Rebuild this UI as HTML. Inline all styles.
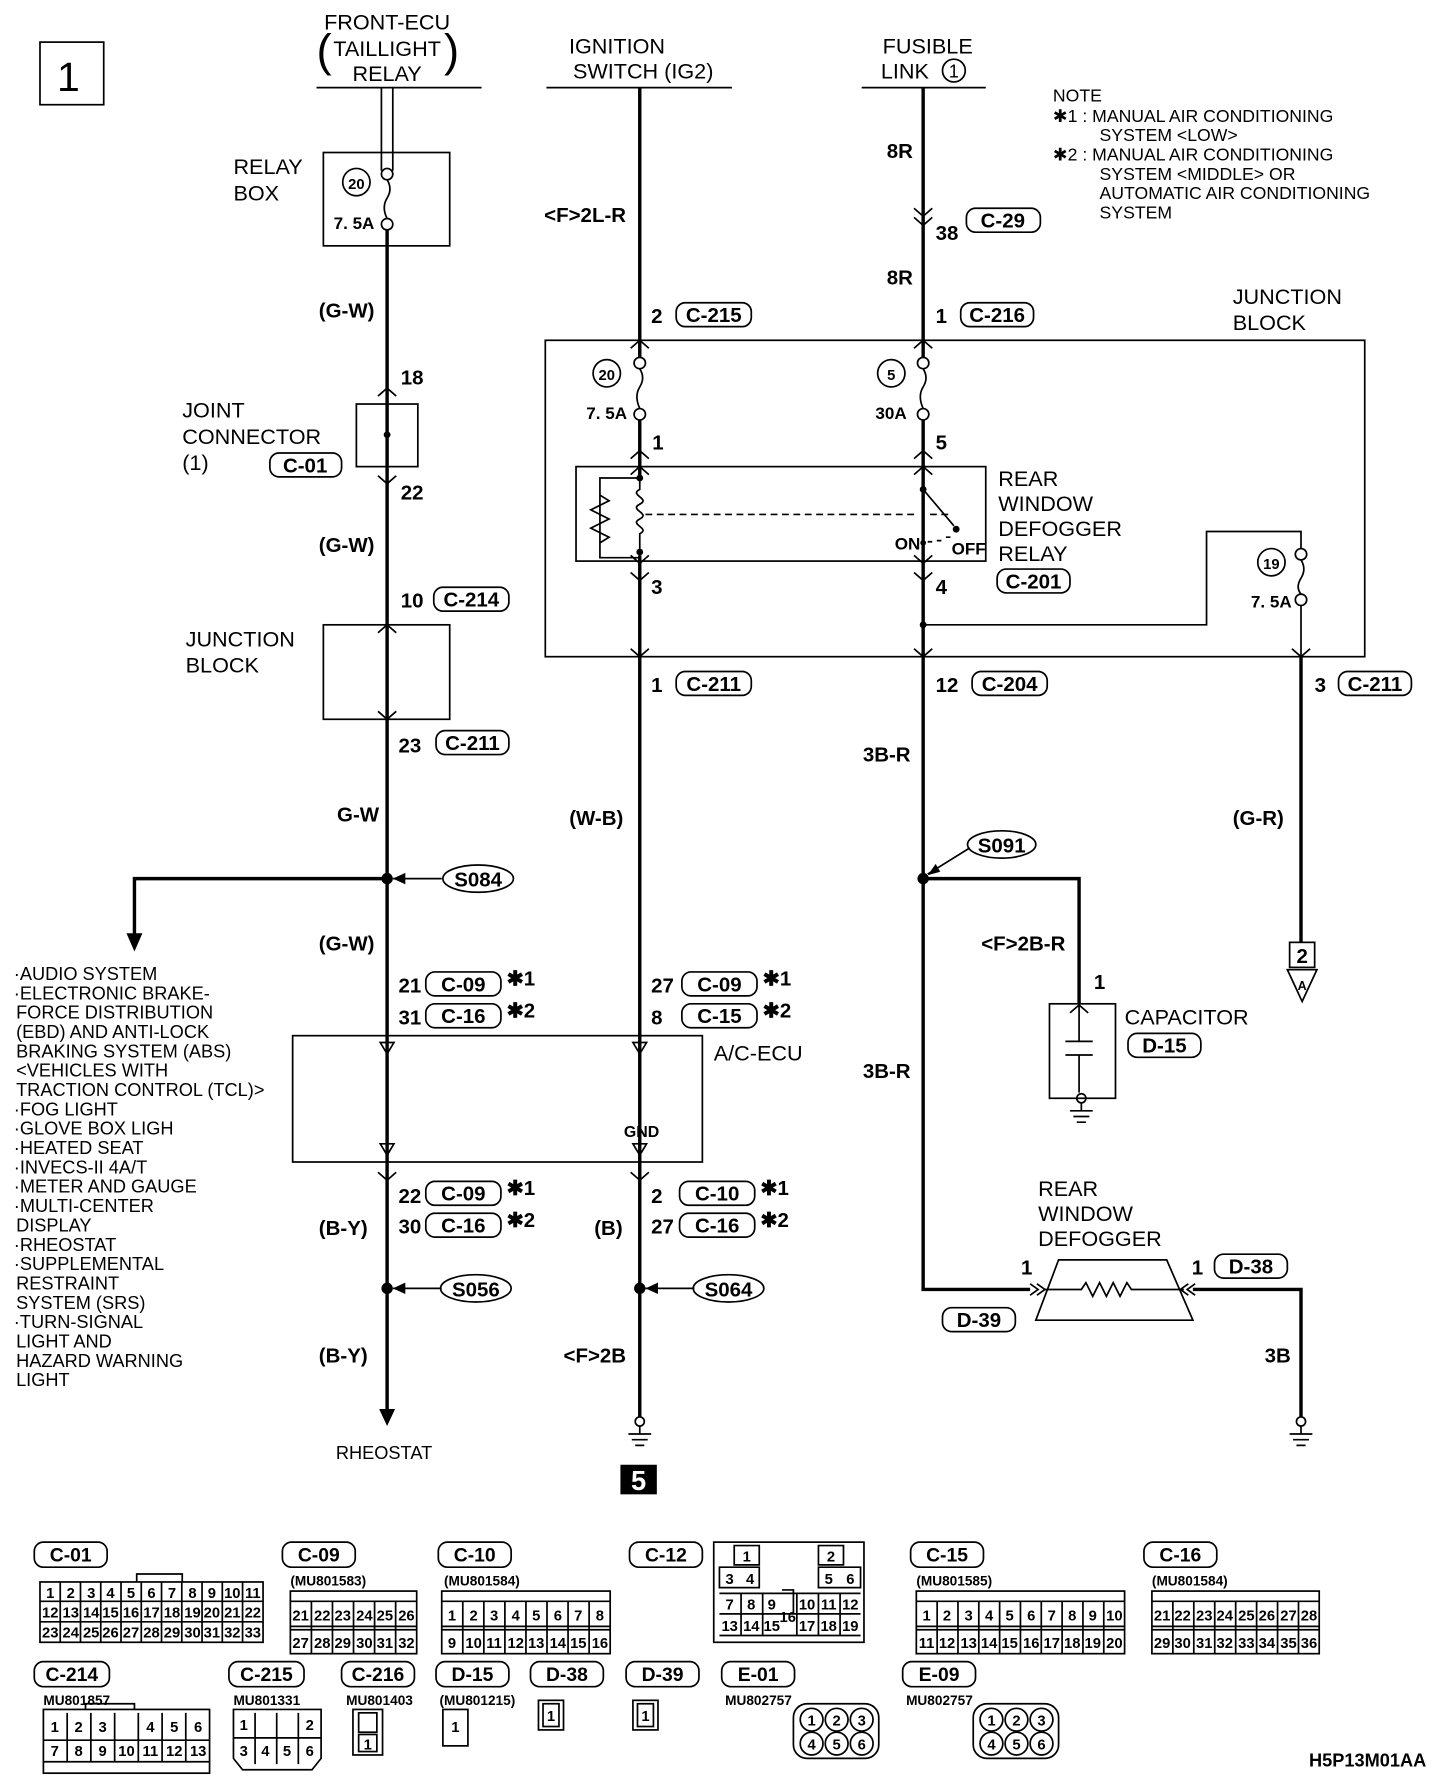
<!DOCTYPE html>
<html><head><meta charset="utf-8"><style>
html,body{margin:0;padding:0;background:#fff}
svg{display:block}
text{font-family:"Liberation Sans",sans-serif;fill:#000}
.t{font-size:19px}
.s{font-size:16px}
.b{font-size:18px;font-weight:bold}
.n{font-size:13px;font-weight:bold}
.w{stroke:#000;stroke-width:3;fill:none}
.l{stroke:#000;stroke-width:1.5;fill:none}
</style></head><body>
<svg width="1440" height="1780" viewBox="0 0 1265 1564" xmlns="http://www.w3.org/2000/svg">
<rect x="35" y="37" width="56" height="55" class="l" stroke-width="2"/>
<text x="50" y="80" style="font-size:36px">1</text>

<g class="t" text-anchor="middle">
<text x="340" y="26">FRONT-ECU</text><text x="340" y="49">TAILLIGHT</text><text x="340" y="71">RELAY</text>
<text x="542" y="47">IGNITION</text><text x="565" y="69">SWITCH (IG2)</text>
<text x="815" y="47">FUSIBLE</text><text x="795" y="69">LINK</text>
</g>
<text x="278" y="58" style="font-size:40px">(</text><text x="390" y="58" style="font-size:40px">)</text>
<circle cx="838" cy="62" r="10" class="l"/><text x="838" y="68" class="s" text-anchor="middle">1</text>
<path d="M278 77H423M480 77H643M757 77H866" class="l"/>
<g class="s" style="font-size:15.5px">
<text x="925" y="89">NOTE</text>
<text x="925" y="107">✱1 : MANUAL AIR CONDITIONING</text>
<text x="966" y="124">SYSTEM &lt;LOW&gt;</text>
<text x="925" y="141">✱2 : MANUAL AIR CONDITIONING</text>
<text x="966" y="158">SYSTEM &lt;MIDDLE&gt; OR</text>
<text x="966" y="175">AUTOMATIC AIR CONDITIONING</text>
<text x="966" y="192">SYSTEM</text>
</g>

<path d="M335 77V150M345 77V150" class="l"/>
<rect x="284" y="134" width="111" height="82" class="l"/>
<circle cx="340" cy="153" r="5" class="l"/><circle cx="340" cy="197" r="5" class="l"/>
<path d="M340 158q5 8 0 16q-5 8 0 18" class="l"/>
<circle cx="313" cy="160" r="12" class="l"/><text x="313" y="166" class="n" text-anchor="middle">20</text>
<text x="293" y="201" class="n" style="font-size:15px">7. 5A</text>
<text x="205" y="153" class="t">RELAY</text><text x="205" y="176" class="t">BOX</text>
<path d="M340 202V1240" class="w"/>
<polygon points="333,1238 347,1238 340,1253"/>
<text x="280" y="279" class="b">(G-W)</text>
<text x="352" y="338" class="b">18</text>
<rect x="313" y="355" width="54" height="55" class="l"/><circle cx="340" cy="382" r="3"/>
<path d="M332 348l8-7 8 7M332 418l8 7 8-7" class="l"/>
<text x="160" y="367" class="t">JOINT</text><text x="160" y="390" class="t">CONNECTOR</text><text x="160" y="413" class="t">(1)</text>
<rect x="237" y="398" width="63" height="21" rx="8" class="l"/><text x="268" y="415" class="b" text-anchor="middle">C-01</text>
<text x="352" y="439" class="b">22</text>
<text x="280" y="485" class="b">(G-W)</text>
<text x="352" y="534" class="b">10</text>
<rect x="381" y="516" width="66" height="21" rx="8" class="l"/><text x="414" y="533" class="b" text-anchor="middle">C-214</text>
<rect x="284" y="549" width="111" height="83" class="l"/>
<path d="M332 556l8-7 8 7M332 625l8 7 8-7" class="l"/>
<text x="163" y="568" class="t">JUNCTION</text><text x="163" y="591" class="t">BLOCK</text>
<text x="350" y="661" class="b">23</text>
<rect x="383" y="642" width="64" height="21" rx="8" class="l"/><text x="415" y="659" class="b" text-anchor="middle">C-211</text>
<text x="296" y="722" class="b">G-W</text>
<path d="M340 772H118V822" class="w"/><polygon points="111,820 125,820 118,836"/>
<circle cx="340" cy="772" r="5"/>
<path d="M345 772H388" class="l"/><polygon points="345,772 356,767 356,777"/>
<ellipse cx="420" cy="772" rx="31" ry="12" class="l" stroke-width="2"/><text x="420" y="779" class="b" text-anchor="middle">S084</text>
<text x="280" y="835" class="b">(G-W)</text>

<g style="font-size:16px">
<text x="12" y="861">·AUDIO SYSTEM</text>
<text x="12" y="878">·ELECTRONIC BRAKE-</text>
<text x="14" y="895">FORCE DISTRIBUTION</text>
<text x="14" y="912">(EBD) AND ANTI-LOCK</text>
<text x="14" y="929">BRAKING SYSTEM (ABS)</text>
<text x="14" y="946">&lt;VEHICLES WITH</text>
<text x="14" y="963">TRACTION CONTROL (TCL)&gt;</text>
<text x="12" y="980">·FOG LIGHT</text>
<text x="12" y="997">·GLOVE BOX LIGH</text>
<text x="12" y="1014">·HEATED SEAT</text>
<text x="12" y="1031">·INVECS-II 4A/T</text>
<text x="12" y="1048">·METER AND GAUGE</text>
<text x="12" y="1065">·MULTI-CENTER</text>
<text x="14" y="1082">DISPLAY</text>
<text x="12" y="1099">·RHEOSTAT</text>
<text x="12" y="1116">·SUPPLEMENTAL</text>
<text x="14" y="1133">RESTRAINT</text>
<text x="14" y="1150">SYSTEM (SRS)</text>
<text x="12" y="1167">·TURN-SIGNAL</text>
<text x="14" y="1184">LIGHT AND</text>
<text x="14" y="1201">HAZARD WARNING</text>
<text x="14" y="1218">LIGHT</text>
</g>

<text x="350" y="872" class="b">21</text><rect x="374" y="854" width="66" height="21" rx="8" class="l"/><text x="407" y="871" class="b" text-anchor="middle">C-09</text><text x="445" y="866" class="b">✱1</text>
<text x="350" y="900" class="b">31</text><rect x="374" y="882" width="66" height="21" rx="8" class="l"/><text x="407" y="899" class="b" text-anchor="middle">C-16</text><text x="445" y="894" class="b">✱2</text>
<text x="572" y="872" class="b">27</text><rect x="599" y="854" width="66" height="21" rx="8" class="l"/><text x="632" y="871" class="b" text-anchor="middle">C-09</text><text x="670" y="866" class="b">✱1</text>
<text x="572" y="900" class="b">8</text><rect x="599" y="882" width="66" height="21" rx="8" class="l"/><text x="632" y="899" class="b" text-anchor="middle">C-15</text><text x="670" y="894" class="b">✱2</text>
<rect x="257" y="910" width="360" height="111" class="l" fill="#fff"/>
<path d="M334 916h12l-6 10zM556 916h12l-6 10zM334 1005h12l-6 10zM556 1005h12l-6 10z" class="l"/>
<text x="627" y="932" class="t">A/C-ECU</text>
<text x="548" y="999" class="n" style="font-size:14px">GND</text>
<path d="M332 1030l8 7 8-7M554 1030l8 7 8-7" class="l"/>
<text x="350" y="1057" class="b">22</text><rect x="374" y="1038" width="66" height="21" rx="8" class="l"/><text x="407" y="1055" class="b" text-anchor="middle">C-09</text><text x="445" y="1050" class="b">✱1</text>
<text x="350" y="1084" class="b">30</text><rect x="374" y="1066" width="66" height="21" rx="8" class="l"/><text x="407" y="1083" class="b" text-anchor="middle">C-16</text><text x="445" y="1078" class="b">✱2</text>
<text x="572" y="1057" class="b">2</text><rect x="597" y="1038" width="66" height="21" rx="8" class="l"/><text x="630" y="1055" class="b" text-anchor="middle">C-10</text><text x="668" y="1050" class="b">✱1</text>
<text x="572" y="1084" class="b">27</text><rect x="597" y="1066" width="66" height="21" rx="8" class="l"/><text x="630" y="1083" class="b" text-anchor="middle">C-16</text><text x="668" y="1078" class="b">✱2</text>
<text x="280" y="1085" class="b">(B-Y)</text>
<text x="522" y="1085" class="b">(B)</text>
<circle cx="340" cy="1132" r="5"/><path d="M345 1132H388" class="l"/><polygon points="345,1132 356,1127 356,1137"/>
<ellipse cx="418" cy="1132" rx="31" ry="12" class="l" stroke-width="2"/><text x="418" y="1139" class="b" text-anchor="middle">S056</text>
<circle cx="562" cy="1132" r="5"/><path d="M567 1132H610" class="l"/><polygon points="567,1132 578,1127 578,1137"/>
<ellipse cx="640" cy="1132" rx="31" ry="12" class="l" stroke-width="2"/><text x="640" y="1139" class="b" text-anchor="middle">S064</text>
<text x="280" y="1197" class="b">(B-Y)</text>
<text x="495" y="1197" class="b">&lt;F&gt;2B</text>
<text x="295" y="1282" class="s">RHEOSTAT</text>

<!-- middle wire -->
<path d="M562 77V314M562 369V1245" class="w"/>
<text x="478" y="195" class="b">&lt;F&gt;2L-R</text>
<text x="572" y="284" class="b">2</text><rect x="594" y="266" width="66" height="21" rx="8" class="l"/><text x="627" y="283" class="b" text-anchor="middle">C-215</text>
<rect x="479" y="299" width="720" height="278" class="l"/>
<text x="1083" y="267" class="t">JUNCTION</text><text x="1083" y="290" class="t">BLOCK</text>
<circle cx="562" cy="319" r="5" class="l"/><circle cx="562" cy="364" r="5" class="l"/>
<circle cx="811" cy="319" r="5" class="l"/><circle cx="811" cy="364" r="5" class="l"/>
<path d="M562 324q5 8 0 16q-5 8 0 19M811 324q5 8 0 16q-5 8 0 19" class="l"/>
<circle cx="533" cy="328" r="12" class="l" fill="#fff"/><text x="533" y="334" class="n" text-anchor="middle">20</text>
<text x="515" y="368" class="n" style="font-size:15px">7. 5A</text>
<circle cx="783" cy="328" r="12" class="l" fill="#fff"/><text x="783" y="334" class="n" text-anchor="middle">5</text>
<text x="769" y="368" class="n" style="font-size:15px">30A</text>
<text x="573" y="395" class="b">1</text><text x="822" y="395" class="b">5</text>
<path d="M554 306l8-7 8 7M803 306l8-7 8 7M554 403l8-7 8 7M803 403l8-7 8 7M554 417l8-7 8 7M803 417l8-7 8 7M554 488l8 7 8-7M803 488l8 7 8-7M554 503l8 7 8-7M803 503l8 7 8-7M554 570l8 7 8-7M803 570l8 7 8-7M1135 570l8 7 8-7" class="l"/>
<rect x="506" y="410" width="360" height="83" class="l"/>
<rect x="557" y="420" width="10" height="68" fill="#fff"/>
<path d="M562 420v10c-10 5 10 8 0 13c-10 5 10 8 0 13c-10 5 10 8 0 13v19" class="l"/>
<path d="M562 420H527V490H562M527 435l8 5-16 8 16 8-16 8 16 8-8 5" class="l"/>
<circle cx="562" cy="420" r="3"/><circle cx="562" cy="485" r="3"/>
<path d="M567 452H836" class="l" stroke-dasharray="6,4"/>
<rect x="806" y="420" width="10" height="70" fill="#fff"/>
<path d="M811 410V430L838 462M811 477V493" class="l"/>
<path d="M815 476h4m4-1h4m4-3h4" class="l"/>
<circle cx="811" cy="430" r="3"/><circle cx="840" cy="465" r="3"/><circle cx="811" cy="477" r="2.5"/>
<text x="786" y="483" class="n" style="font-size:15px">ON</text><text x="836" y="487" class="n" style="font-size:15px">OFF</text>
<text x="877" y="427" class="t">REAR</text><text x="877" y="449" class="t">WINDOW</text><text x="877" y="471" class="t">DEFOGGER</text><text x="877" y="493" class="t">RELAY</text>
<rect x="876" y="500" width="64" height="21" rx="8" class="l"/><text x="908" y="517" class="b" text-anchor="middle">C-201</text>
<text x="572" y="522" class="b">3</text><text x="822" y="522" class="b">4</text>
<text x="572" y="608" class="b">1</text><rect x="594" y="590" width="66" height="21" rx="8" class="l"/><text x="627" y="607" class="b" text-anchor="middle">C-211</text>
<text x="500" y="725" class="b">(W-B)</text>

<!-- right wire -->
<path d="M811 77V314M811 369V1133H905" class="w"/>
<text x="779" y="139" class="b">8R</text>
<path d="M803 183l8 7 8-7M803 191l8 7 8-7" class="l"/>
<text x="822" y="211" class="b">38</text>
<rect x="849" y="183" width="65" height="21" rx="8" class="l"/><text x="881" y="200" class="b" text-anchor="middle">C-29</text>
<text x="779" y="250" class="b">8R</text>
<text x="822" y="284" class="b">1</text><rect x="844" y="266" width="64" height="21" rx="8" class="l"/><text x="876" y="283" class="b" text-anchor="middle">C-216</text>
<path d="M811 549H1060V467H1143V482M1143 532V577" class="l"/>
<path d="M1143 577V828" class="w"/>
<circle cx="811" cy="549" r="3"/>
<circle cx="1143" cy="487" r="5" class="l" fill="#fff"/><circle cx="1143" cy="527" r="5" class="l" fill="#fff"/>
<path d="M1143 492q5 8 0 16q-5 8 0 14" class="l"/>
<circle cx="1117" cy="494" r="12" class="l"/><text x="1117" y="500" class="n" text-anchor="middle">19</text>
<text x="1099" y="534" class="n" style="font-size:15px">7. 5A</text>
<text x="822" y="608" class="b">12</text><rect x="854" y="590" width="66" height="21" rx="8" class="l"/><text x="887" y="607" class="b" text-anchor="middle">C-204</text>
<text x="1155" y="608" class="b">3</text><rect x="1176" y="590" width="64" height="21" rx="8" class="l"/><text x="1208" y="607" class="b" text-anchor="middle">C-211</text>
<text x="758" y="669" class="b">3B-R</text>
<text x="1083" y="725" class="b">(G-R)</text>
<path d="M811 772H948V882" class="w"/><circle cx="811" cy="772" r="5"/>
<path d="M815 768L852 745" class="l"/><polygon points="815,769 822,759 826,766"/>
<ellipse cx="880" cy="742" rx="30" ry="12" class="l" stroke-width="2"/><text x="880" y="749" class="b" text-anchor="middle">S091</text>
<text x="862" y="835" class="b">&lt;F&gt;2B-R</text>
<text x="961" y="869" class="b">1</text>
<rect x="922" y="882" width="58" height="83" class="l"/>
<path d="M940 890l8-7 8 7M948 882V915M936 915H960M936 927H960M948 927V960" class="l"/>
<circle cx="950" cy="965" r="4" class="l" fill="#fff"/>
<path d="M950 969V976M940 976H960M943 981H957M946 986H954" class="l"/>
<text x="988" y="900" class="t">CAPACITOR</text>
<rect x="991" y="908" width="64" height="21" rx="8" class="l"/><text x="1023" y="925" class="b" text-anchor="middle">D-15</text>
<text x="758" y="947" class="b">3B-R</text>
<rect x="1133" y="828" width="22" height="22" class="l"/><text x="1144" y="846" class="b" text-anchor="middle">2</text>
<path d="M1131 852H1157L1144 880Z" class="l"/><text x="1144" y="870" class="n" text-anchor="middle" style="font-size:11px">A</text>
<path d="M905 1128l7 5-7 5M911 1128l7 5-7 5M1050 1128l-7 5 7 5M1044 1128l-7 5 7 5" class="l"/>
<path d="M930 1107H1025L1048 1160H910Z" class="l"/>
<path d="M918 1133H950l4-6 6 12 6-12 6 12 6-12 6 12 6-12 4 6H1040" class="l"/>
<path d="M1048 1133H1143V1245" class="w"/>
<text x="912" y="1051" class="t">REAR</text><text x="912" y="1073" class="t">WINDOW</text><text x="912" y="1095" class="t">DEFOGGER</text>
<text x="897" y="1120" class="b">1</text>
<text x="1047" y="1120" class="b">1</text><rect x="1067" y="1102" width="64" height="21" rx="8" class="l"/><text x="1099" y="1119" class="b" text-anchor="middle">D-38</text>
<rect x="828" y="1149" width="64" height="21" rx="8" class="l"/><text x="860" y="1166" class="b" text-anchor="middle">D-39</text>
<text x="1111" y="1197" class="b">3B</text>
<g class="l">
<circle cx="562" cy="1249" r="4" fill="#fff"/><path d="M562 1253V1260M552 1260H572M555 1265H569M558 1270H566"/>
<circle cx="1143" cy="1249" r="4" fill="#fff"/><path d="M1143 1253V1260M1133 1260H1153M1136 1265H1150M1139 1270H1147"/>
</g>
<rect x="545" y="1287" width="32" height="26" fill="#000"/><text x="561" y="1309" text-anchor="middle" style="font-size:24px;font-weight:bold;fill:#fff">5</text>

<g class="b" text-anchor="middle" style="font-size:17px">
<rect x="30" y="1355" width="64" height="22" rx="8" class="l"/><text x="62" y="1372">C-01</text>
<rect x="248" y="1355" width="64" height="22" rx="8" class="l"/><text x="280" y="1372">C-09</text>
<rect x="385" y="1355" width="64" height="22" rx="8" class="l"/><text x="417" y="1372">C-10</text>
<rect x="553" y="1355" width="64" height="22" rx="8" class="l"/><text x="585" y="1372">C-12</text>
<rect x="800" y="1355" width="64" height="22" rx="8" class="l"/><text x="832" y="1372">C-15</text>
<rect x="1005" y="1355" width="64" height="22" rx="8" class="l"/><text x="1037" y="1372">C-16</text>
<rect x="30" y="1460" width="66" height="22" rx="8" class="l"/><text x="63" y="1477">C-214</text>
<rect x="201" y="1460" width="66" height="22" rx="8" class="l"/><text x="234" y="1477">C-215</text>
<rect x="300" y="1460" width="64" height="22" rx="8" class="l"/><text x="332" y="1477">C-216</text>
<rect x="383" y="1460" width="64" height="22" rx="8" class="l"/><text x="415" y="1477">D-15</text>
<rect x="466" y="1460" width="64" height="22" rx="8" class="l"/><text x="498" y="1477">D-38</text>
<rect x="550" y="1460" width="64" height="22" rx="8" class="l"/><text x="582" y="1477">D-39</text>
<rect x="634" y="1460" width="64" height="22" rx="8" class="l"/><text x="666" y="1477">E-01</text>
<rect x="793" y="1460" width="64" height="22" rx="8" class="l"/><text x="825" y="1477">E-09</text>
</g>
<g style="font-size:12px;font-weight:bold">
<text x="255" y="1393">(MU801583)</text><text x="390" y="1393">(MU801584)</text>
<text x="805" y="1393">(MU801585)</text><text x="1012" y="1393">(MU801584)</text>
<text x="38" y="1498">MU801857</text><text x="205" y="1498">MU801331</text><text x="304" y="1498">MU801403</text>
<text x="386" y="1498">(MU801215)</text><text x="637" y="1498">MU802757</text><text x="796" y="1498">MU802757</text>
</g>
<text x="1150" y="1552" class="b" style="font-size:16px">H5P13M01AA</text>

<g class="l" stroke-width="2">
<rect x="35" y="1390" width="196" height="53"/>
<path d="M35 1407H231M35 1425H231M52.8 1390V1443M70.6 1390V1443M88.4 1390V1443M106.2 1390V1443M124 1390V1443M141.8 1390V1443M159.6 1390V1443M177.4 1390V1443M195.2 1390V1443M213 1390V1443M120 1390V1383H160V1390"/>
<rect x="255" y="1398" width="111" height="55"/>
<path d="M255 1407H366M255 1429H366M255 1432H366M273.5 1407V1453M292 1407V1453M310.5 1407V1453M329 1407V1453M347.5 1407V1453"/>
<rect x="388" y="1398" width="148" height="55"/>
<path d="M388 1407H536M388 1429H536M388 1432H536M406.5 1407V1453M425 1407V1453M443.5 1407V1453M462 1407V1453M480.5 1407V1453M499 1407V1453M517.5 1407V1453"/>
<rect x="627" y="1355" width="132" height="88"/>
<path d="M645 1358H667V1375H645ZM719 1358H741V1375H719ZM632 1377H667V1395H632ZM719 1377H756V1395H719ZM632 1400H756M632 1418H756M632 1437H756M651 1400V1437M670 1400V1437M700 1400V1437M719 1400V1437M738 1400V1437M687 1397H697V1418"/>
<rect x="805" y="1398" width="183" height="55"/>
<path d="M805 1407H988M805 1429H988M805 1432H988M823.3 1407V1453M841.6 1407V1453M859.9 1407V1453M878.2 1407V1453M896.5 1407V1453M914.8 1407V1453M933.1 1407V1453M951.4 1407V1453M969.7 1407V1453"/>
<rect x="1012" y="1398" width="147" height="55"/>
<path d="M1012 1407H1159M1012 1429H1159M1012 1432H1159M1030.4 1407V1453M1048.8 1407V1453M1067.2 1407V1453M1085.6 1407V1453M1104 1407V1453M1122.4 1407V1453M1140.8 1407V1453"/>
<rect x="38" y="1502" width="146" height="56"/>
<path d="M38 1529H184M38 1548H184M58.9 1505V1548M79.7 1505V1548M100.6 1505V1548M121.4 1505V1548M142.3 1505V1548M163.1 1505V1548M75 1502V1497H118V1502"/>
<path d="M205 1502H282V1545L274 1555H213L205 1545Z"/>
<path d="M205 1527H282M224 1505V1550M243 1505V1550M262 1505V1550"/>
<rect x="310" y="1502" width="26" height="40"/><rect x="315" y="1505" width="16" height="17"/><rect x="315" y="1524" width="16" height="15"/>
<rect x="389" y="1502" width="22" height="32"/>
<rect x="473" y="1494" width="22" height="26"/><rect x="477" y="1497" width="14" height="20"/>
<rect x="556" y="1494" width="22" height="26"/><rect x="560" y="1497" width="14" height="20"/>
<rect x="697" y="1497" width="75" height="48" rx="12"/>
<rect x="855" y="1497" width="75" height="48" rx="12"/>
</g>
<g fill="none" stroke="#000" stroke-width="1.5">
<circle cx="713" cy="1511" r="10"/><circle cx="735" cy="1511" r="10"/><circle cx="757" cy="1511" r="10"/>
<circle cx="713" cy="1532" r="10"/><circle cx="735" cy="1532" r="10"/><circle cx="757" cy="1532" r="10"/>
<circle cx="871" cy="1511" r="10"/><circle cx="893" cy="1511" r="10"/><circle cx="915" cy="1511" r="10"/>
<circle cx="871" cy="1532" r="10"/><circle cx="893" cy="1532" r="10"/><circle cx="915" cy="1532" r="10"/>
</g>
<g style="font-size:13px;font-weight:bold" text-anchor="middle">
<text x="44" y="1404">1</text><text x="62" y="1404">2</text><text x="80" y="1404">3</text><text x="97" y="1404">4</text><text x="115" y="1404">5</text><text x="133" y="1404">6</text><text x="151" y="1404">7</text><text x="169" y="1404">8</text><text x="186" y="1404">9</text><text x="204" y="1404">10</text><text x="222" y="1404">11</text>
<text x="44" y="1421">12</text><text x="62" y="1421">13</text><text x="80" y="1421">14</text><text x="97" y="1421">15</text><text x="115" y="1421">16</text><text x="133" y="1421">17</text><text x="151" y="1421">18</text><text x="169" y="1421">19</text><text x="186" y="1421">20</text><text x="204" y="1421">21</text><text x="222" y="1421">22</text>
<text x="44" y="1439">23</text><text x="62" y="1439">24</text><text x="80" y="1439">25</text><text x="97" y="1439">26</text><text x="115" y="1439">27</text><text x="133" y="1439">28</text><text x="151" y="1439">29</text><text x="169" y="1439">30</text><text x="186" y="1439">31</text><text x="204" y="1439">32</text><text x="222" y="1439">33</text>
<text x="264" y="1424">21</text><text x="283" y="1424">22</text><text x="301" y="1424">23</text><text x="320" y="1424">24</text><text x="338" y="1424">25</text><text x="357" y="1424">26</text>
<text x="264" y="1448">27</text><text x="283" y="1448">28</text><text x="301" y="1448">29</text><text x="320" y="1448">30</text><text x="338" y="1448">31</text><text x="357" y="1448">32</text>
<text x="397" y="1424">1</text><text x="416" y="1424">2</text><text x="434" y="1424">3</text><text x="453" y="1424">4</text><text x="471" y="1424">5</text><text x="490" y="1424">6</text><text x="508" y="1424">7</text><text x="527" y="1424">8</text>
<text x="397" y="1448">9</text><text x="416" y="1448">10</text><text x="434" y="1448">11</text><text x="453" y="1448">12</text><text x="471" y="1448">13</text><text x="490" y="1448">14</text><text x="508" y="1448">15</text><text x="527" y="1448">16</text>
<text x="656" y="1372">1</text><text x="730" y="1372">2</text><text x="641" y="1392">3</text><text x="659" y="1392">4</text><text x="728" y="1392">5</text><text x="747" y="1392">6</text>
<text x="641" y="1414">7</text><text x="660" y="1414">8</text><text x="678" y="1414">9</text><text x="692" y="1425">16</text><text x="709" y="1414">10</text><text x="728" y="1414">11</text><text x="747" y="1414">12</text>
<text x="641" y="1433">13</text><text x="660" y="1433">14</text><text x="678" y="1433">15</text><text x="709" y="1433">17</text><text x="728" y="1433">18</text><text x="747" y="1433">19</text>
<text x="814" y="1424">1</text><text x="832" y="1424">2</text><text x="851" y="1424">3</text><text x="869" y="1424">4</text><text x="887" y="1424">5</text><text x="906" y="1424">6</text><text x="924" y="1424">7</text><text x="942" y="1424">8</text><text x="960" y="1424">9</text><text x="979" y="1424">10</text>
<text x="814" y="1448">11</text><text x="832" y="1448">12</text><text x="851" y="1448">13</text><text x="869" y="1448">14</text><text x="887" y="1448">15</text><text x="906" y="1448">16</text><text x="924" y="1448">17</text><text x="942" y="1448">18</text><text x="960" y="1448">19</text><text x="979" y="1448">20</text>
<text x="1021" y="1424">21</text><text x="1039" y="1424">22</text><text x="1058" y="1424">23</text><text x="1076" y="1424">24</text><text x="1095" y="1424">25</text><text x="1113" y="1424">26</text><text x="1132" y="1424">27</text><text x="1150" y="1424">28</text>
<text x="1021" y="1448">29</text><text x="1039" y="1448">30</text><text x="1058" y="1448">31</text><text x="1076" y="1448">32</text><text x="1095" y="1448">33</text><text x="1113" y="1448">34</text><text x="1132" y="1448">35</text><text x="1150" y="1448">36</text>
<text x="48" y="1522">1</text><text x="69" y="1522">2</text><text x="90" y="1522">3</text><text x="132" y="1522">4</text><text x="153" y="1522">5</text><text x="174" y="1522">6</text>
<text x="48" y="1543">7</text><text x="69" y="1543">8</text><text x="90" y="1543">9</text><text x="111" y="1543">10</text><text x="132" y="1543">11</text><text x="153" y="1543">12</text><text x="174" y="1543">13</text>
<text x="214" y="1520">1</text><text x="272" y="1520">2</text><text x="214" y="1543">3</text><text x="233" y="1543">4</text><text x="252" y="1543">5</text><text x="272" y="1543">6</text>
<text x="323" y="1537">1</text><text x="400" y="1522">1</text><text x="484" y="1512">1</text><text x="567" y="1512">1</text>
<text x="713" y="1516">1</text><text x="735" y="1516">2</text><text x="757" y="1516">3</text><text x="713" y="1537">4</text><text x="735" y="1537">5</text><text x="757" y="1537">6</text>
<text x="871" y="1516">1</text><text x="893" y="1516">2</text><text x="915" y="1516">3</text><text x="871" y="1537">4</text><text x="893" y="1537">5</text><text x="915" y="1537">6</text>
</g>
</svg>
</body></html>
